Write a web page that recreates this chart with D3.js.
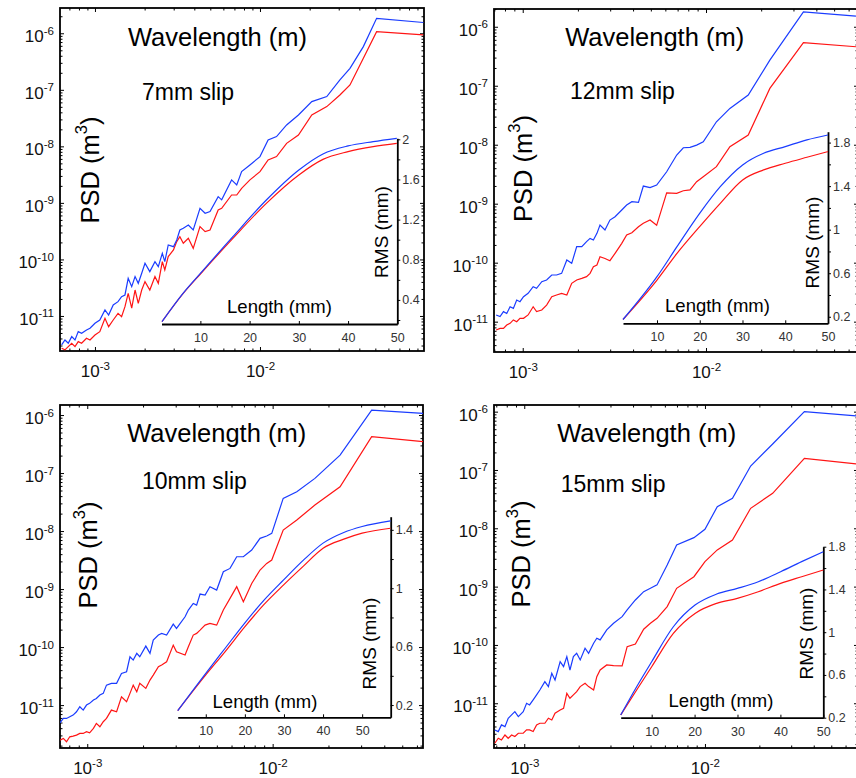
<!DOCTYPE html>
<html>
<head>
<meta charset="utf-8">
<script src="https://cdn.jsdelivr.net/npm/d3@7"></script>
<style>
  body { margin: 0; background: #fff; }
  svg { display: block; font-family: "Liberation Sans", Arial, Helvetica, sans-serif; }
</style>
</head>
<body>
<svg id="chart"></svg>
<script>
// ---- 7mm slip: wavelength (m) and PSD (m^3)
let wl7 = [6.28e-4, 6.58e-4, 6.89e-4, 7.23e-4, 7.57e-4, 7.92e-4, 8.30e-4, 8.89e-4, 9.33e-4, 1.00e-3,
  1.07e-3, 1.15e-3, 1.21e-3, 1.29e-3, 1.38e-3, 1.45e-3, 1.52e-3, 1.59e-3, 1.67e-3, 1.75e-3,
  1.83e-3, 1.92e-3, 2.01e-3, 2.15e-3, 2.31e-3, 2.42e-3, 2.56e-3, 2.65e-3, 2.78e-3, 2.99e-3,
  3.13e-3, 3.27e-3, 3.43e-3, 3.68e-3, 3.94e-3, 4.33e-3, 4.65e-3, 4.98e-3, 5.58e-3, 5.86e-3,
  6.73e-3, 7.23e-3, 7.74e-3, 8.69e-3, 1.00e-2, 1.12e-2, 1.26e-2, 1.45e-2, 1.71e-2, 2.06e-2,
  2.54e-2, 3.05e-2, 3.51e-2, 4.23e-2, 5.09e-2, 9.77e-2];
let psd7Blue = [3.07e-12, 3.76e-12, 3.29e-12, 4.31e-12, 3.76e-12, 5.28e-12, 4.93e-12, 5.65e-12, 6.05e-12, 7.41e-12,
  8.49e-12, 1.28e-11, 1.04e-11, 1.57e-11, 1.79e-11, 2.20e-11, 2.35e-11, 4.63e-11, 3.30e-11, 4.97e-11,
  3.78e-11, 5.69e-11, 8.55e-11, 6.08e-11, 9.14e-11, 7.46e-11, 1.28e-10, 9.14e-11, 1.80e-10, 1.68e-10,
  2.21e-10, 3.32e-10, 3.56e-10, 4.07e-10, 3.32e-10, 8.02e-10, 6.55e-10, 7.01e-10, 1.29e-9, 1.13e-9,
  2.55e-9, 2.07e-9, 3.57e-9, 4.69e-9, 6.58e-9, 1.30e-8, 1.49e-8, 2.39e-8, 3.59e-8, 6.18e-8,
  7.59e-8, 1.50e-7, 2.40e-7, 5.81e-7, 1.84e-6, 1.55e-6];
let psd7Red = [2.68e-12, 2.51e-12, 2.87e-12, 3.29e-12, 2.87e-12, 3.52e-12, 3.29e-12, 4.03e-12, 3.76e-12, 4.61e-12,
  5.28e-12, 9.10e-12, 6.47e-12, 8.49e-12, 1.11e-11, 9.73e-12, 1.46e-11, 2.52e-11, 1.37e-11, 2.88e-11,
  1.67e-11, 2.88e-11, 4.05e-11, 2.88e-11, 4.97e-11, 3.78e-11, 9.14e-11, 6.52e-11, 1.12e-10, 1.47e-10,
  2.07e-10, 2.53e-10, 1.93e-10, 2.37e-10, 1.57e-10, 3.80e-10, 3.10e-10, 3.32e-10, 7.50e-10, 8.02e-10,
  1.38e-9, 1.38e-9, 1.81e-9, 2.55e-9, 3.57e-9, 5.74e-9, 6.58e-9, 1.13e-8, 1.59e-8, 3.59e-8,
  5.05e-8, 8.11e-8, 1.22e-7, 3.61e-7, 1.07e-6, 9.35e-7];
// inset: length (mm) and RMS (mm)
let len7 = [2.2, 6.47, 10, 16.6, 23.4, 30, 34.9, 40, 45.1, 49.9];
let rms7Blue = [0.183, 0.465, 0.664, 1.03, 1.395, 1.694, 1.854, 1.934, 1.977, 2.01];
let rms7Red = [0.183, 0.462, 0.658, 1.013, 1.362, 1.645, 1.80, 1.877, 1.927, 1.96];

// ---- 12mm slip
let wl12 = [7.16e-4, 7.52e-4, 7.85e-4, 8.18e-4, 8.53e-4, 8.89e-4, 9.27e-4, 9.66e-4, 1.01e-3, 1.07e-3,
  1.14e-3, 1.19e-3, 1.27e-3, 1.35e-3, 1.44e-3, 1.53e-3, 1.63e-3, 1.74e-3, 1.85e-3, 1.97e-3,
  2.10e-3, 2.23e-3, 2.33e-3, 2.43e-3, 2.54e-3, 2.64e-3, 2.81e-3, 2.99e-3, 3.19e-3, 3.47e-3,
  3.69e-3, 3.94e-3, 4.28e-3, 4.55e-3, 4.95e-3, 5.38e-3, 6.10e-3, 6.92e-3, 7.52e-3, 8.18e-3,
  8.89e-3, 9.66e-3, 1.14e-2, 1.35e-2, 1.70e-2, 2.23e-2, 3.40e-2, 6.58e-2];
let psd12Blue = [1.30e-11, 1.22e-11, 1.48e-11, 1.38e-11, 1.79e-11, 1.68e-11, 2.33e-11, 2.18e-11, 2.65e-11, 3.02e-11,
  3.92e-11, 3.67e-11, 4.76e-11, 5.08e-11, 6.18e-11, 6.18e-11, 6.59e-11, 1.11e-10, 9.75e-11, 1.87e-10,
  1.87e-10, 2.27e-10, 2.58e-10, 2.42e-10, 3.14e-10, 4.35e-10, 3.58e-10, 5.28e-10, 6.03e-10, 7.82e-10,
  9.48e-10, 1.08e-9, 1.05e-9, 1.99e-9, 1.87e-9, 2.07e-9, 3.48e-9, 6.68e-9, 8.89e-9, 9.02e-9,
  9.86e-9, 1.12e-8, 2.45e-8, 4.13e-8, 6.95e-8, 2.72e-7, 1.79e-6, 1.52e-6];
let psd12Red = [7.23e-12, 7.71e-12, 7.71e-12, 8.79e-12, 9.38e-12, 1.07e-11, 1.00e-11, 1.14e-11, 1.14e-11, 1.30e-11,
  1.79e-11, 1.48e-11, 1.58e-11, 1.91e-11, 2.65e-11, 2.83e-11, 3.02e-11, 2.83e-11, 4.47e-11, 5.08e-11,
  5.42e-11, 5.79e-11, 6.59e-11, 8.55e-11, 9.12e-11, 1.26e-10, 1.18e-10, 1.08e-10, 1.44e-10, 2.13e-10,
  2.94e-10, 3.22e-10, 4.07e-10, 4.65e-10, 5.28e-10, 4.30e-10, 1.53e-9, 1.50e-9, 1.66e-9, 1.71e-9,
  2.36e-9, 2.87e-9, 4.24e-9, 9.25e-9, 1.46e-8, 9.02e-8, 5.36e-7, 4.58e-7];
let len12 = [2.05, 10, 14.68, 19.98, 24.8, 30.03, 34.94, 40.0, 45.07, 49.98];
let rms12Blue = [0.175, 0.568, 0.844, 1.150, 1.395, 1.595, 1.702, 1.763, 1.825, 1.870];
let rms12Red = [0.175, 0.537, 0.782, 1.028, 1.242, 1.457, 1.549, 1.610, 1.665, 1.717];

// ---- 10mm slip
let wl10 = [7.13e-4, 7.43e-4, 7.73e-4, 8.05e-4, 8.39e-4, 8.75e-4, 9.12e-4, 9.51e-4, 9.91e-4, 1.03e-3,
  1.08e-3, 1.12e-3, 1.17e-3, 1.22e-3, 1.27e-3, 1.35e-3, 1.44e-3, 1.53e-3, 1.63e-3, 1.70e-3,
  1.77e-3, 1.85e-3, 1.92e-3, 2.07e-3, 2.18e-3, 2.27e-3, 2.42e-3, 2.52e-3, 2.68e-3, 2.91e-3,
  3.03e-3, 3.37e-3, 3.51e-3, 3.73e-3, 3.89e-3, 4.06e-3, 4.32e-3, 4.59e-3, 4.99e-3, 5.42e-3,
  5.89e-3, 6.40e-3, 6.95e-3, 7.71e-3, 8.55e-3, 9.29e-3, 9.89e-3, 1.14e-2, 1.35e-2, 1.69e-2,
  2.31e-2, 3.42e-2, 6.50e-2];
let psd10Blue = [4.95e-12, 5.89e-12, 5.89e-12, 6.30e-12, 6.73e-12, 7.67e-12, 9.35e-12, 8.20e-12, 1.00e-11, 1.07e-11,
  1.22e-11, 1.30e-11, 1.49e-11, 1.59e-11, 2.21e-11, 2.37e-11, 2.37e-11, 3.52e-11, 3.76e-11, 6.81e-11,
  5.97e-11, 7.78e-11, 6.81e-11, 1.04e-10, 7.78e-11, 1.32e-10, 1.61e-10, 1.72e-10, 1.61e-10, 2.49e-10,
  2.10e-10, 3.33e-10, 4.35e-10, 5.66e-10, 5.30e-10, 8.20e-10, 7.89e-10, 1.10e-9, 9.62e-10, 1.99e-9,
  2.27e-9, 3.61e-9, 3.61e-9, 4.70e-9, 7.48e-9, 8.20e-9, 9.12e-9, 3.66e-8, 4.76e-8, 8.09e-8,
  2.04e-7, 1.22e-6, 1.07e-6];
let psd10Red = [2.49e-12, 2.66e-12, 2.33e-12, 2.84e-12, 2.92e-12, 3.04e-12, 3.24e-12, 3.24e-12, 3.47e-12, 3.33e-12,
  3.96e-12, 4.83e-12, 4.23e-12, 5.16e-12, 5.89e-12, 8.20e-12, 7.67e-12, 1.39e-11, 1.14e-11, 1.59e-11,
  2.21e-11, 1.70e-11, 2.37e-11, 1.94e-11, 2.70e-11, 3.29e-11, 4.58e-11, 4.90e-11, 5.58e-11, 1.08e-10,
  8.32e-11, 7.28e-11, 1.01e-10, 1.61e-10, 1.72e-10, 1.96e-10, 2.39e-10, 2.56e-10, 2.39e-10, 4.35e-10,
  6.90e-10, 1.10e-9, 6.05e-10, 1.25e-9, 2.13e-9, 2.77e-9, 3.16e-9, 1.04e-8, 1.55e-8, 2.81e-8,
  5.81e-8, 4.23e-7, 3.47e-7];
let len10 = [2.82, 10, 14.96, 19.91, 24.79, 29.91, 35.04, 40.0, 45.3, 50.0, 57.26];
let rms10Blue = [0.161, 0.417, 0.589, 0.76, 0.915, 1.057, 1.194, 1.309, 1.382, 1.423, 1.462];
let rms10Red = [0.161, 0.406, 0.566, 0.733, 0.886, 1.023, 1.153, 1.274, 1.336, 1.377, 1.411];

// ---- 15mm slip
let wl15 = [6.87e-4, 7.18e-4, 7.48e-4, 7.82e-4, 8.15e-4, 8.51e-4, 8.87e-4, 9.27e-4, 9.87e-4, 1.03e-3,
  1.07e-3, 1.12e-3, 1.17e-3, 1.22e-3, 1.30e-3, 1.36e-3, 1.42e-3, 1.48e-3, 1.58e-3, 1.65e-3,
  1.72e-3, 1.79e-3, 1.87e-3, 1.95e-3, 2.04e-3, 2.17e-3, 2.27e-3, 2.42e-3, 2.52e-3, 2.63e-3,
  2.86e-3, 3.12e-3, 3.48e-3, 3.71e-3, 4.12e-3, 4.58e-3, 4.99e-3, 5.43e-3, 6.18e-3, 6.97e-3,
  8.69e-3, 1.00e-2, 1.17e-2, 1.42e-2, 1.79e-2, 2.37e-2, 3.55e-2, 6.97e-2];
let psd15Blue = [3.49e-12, 3.27e-12, 4.26e-12, 3.98e-12, 5.53e-12, 6.31e-12, 7.19e-12, 5.90e-12, 7.19e-12, 1.00e-11,
  9.35e-12, 1.14e-11, 1.39e-11, 1.69e-11, 2.35e-11, 1.93e-11, 3.27e-11, 2.51e-11, 5.18e-11, 4.26e-11,
  6.31e-11, 3.72e-11, 6.31e-11, 7.19e-11, 5.53e-11, 8.77e-11, 7.19e-11, 1.07e-10, 1.30e-10, 1.22e-10,
  1.81e-10, 2.35e-10, 3.06e-10, 3.98e-10, 5.90e-10, 8.20e-10, 9.35e-10, 1.07e-9, 2.35e-9, 5.18e-9,
  6.92e-9, 9.62e-9, 2.35e-8, 3.27e-8, 1.17e-7, 2.79e-7, 1.00e-6, 8.43e-7];
let psd15Red = [2.06e-12, 2.51e-12, 2.35e-12, 2.86e-12, 2.51e-12, 2.86e-12, 2.69e-12, 3.06e-12, 3.06e-12, 3.49e-12,
  3.49e-12, 3.27e-12, 4.26e-12, 4.54e-12, 4.54e-12, 5.53e-12, 5.18e-12, 6.75e-12, 7.69e-12, 8.20e-12,
  1.48e-11, 1.22e-11, 1.39e-11, 1.58e-11, 1.93e-11, 2.20e-11, 1.93e-11, 1.69e-11, 2.86e-11, 3.72e-11,
  4.54e-11, 4.43e-11, 4.37e-11, 9.35e-11, 1.04e-10, 1.86e-10, 2.35e-10, 2.86e-10, 4.54e-10, 9.35e-10,
  1.48e-9, 2.69e-9, 4.26e-9, 6.31e-9, 2.20e-8, 3.98e-8, 1.58e-7, 1.27e-7];
let len15 = [2.78, 6.5, 10, 15.05, 20.1, 25.15, 29.96, 34.85, 40.06, 44.95, 50.0];
let rms15Blue = [0.225, 0.49, 0.724, 1.051, 1.254, 1.357, 1.410, 1.472, 1.566, 1.660, 1.753];
let rms15Red = [0.225, 0.459, 0.677, 0.989, 1.176, 1.270, 1.317, 1.379, 1.457, 1.519, 1.582];

// inset tick values and which of them carry a label
let lengthTicks = [10, 20, 30, 40, 50];
let rmsTicks7 = [0.2, 0.4, 0.6, 0.8, 1, 1.2, 1.4, 1.6, 1.8, 2];
let rmsLabels7 = [0.4, 0.8, 1.2, 1.6, 2];
let rmsTicks12 = [0.2, 0.4, 0.6, 0.8, 1, 1.2, 1.4, 1.6, 1.8];
let rmsLabels12 = [0.2, 0.6, 1, 1.4, 1.8];
let rmsTicks10 = [0.2, 0.4, 0.6, 0.8, 1, 1.2, 1.4];
let rmsLabels10 = [0.2, 0.6, 1, 1.4];
let rmsTicks15 = [0.2, 0.4, 0.6, 0.8, 1, 1.2, 1.4, 1.6, 1.8];
let rmsLabels15 = [0.2, 0.6, 1, 1.4, 1.8];

let width = 856;
let height = 778;
let blue = '#1a3cff';
let red = '#ff1414';

let svg = d3.select('#chart').attr('width', width).attr('height', height);

// layout of the four panels (frame, axis extents, inset box, text anchors)
let panels = [
  { slip: '7mm slip', wl: wl7, blue: psd7Blue, red: psd7Red, len: len7, rmsBlue: rms7Blue, rmsRed: rms7Red,
    frame: [60, 8, 424, 351], xDomain: [6.14e-4, 0.0986], yDomain: [2.40e-12, 2.80e-6],
    inset: [161.5, 138.3, 397.3, 324], insetX: [2.1, 50], insetY: [0.16, 2.01],
    rmsTicks: rmsTicks7, rmsLabels: rmsLabels7,
    title: [217.5, 45.7], slipPos: [142, 100], psd: [99, 170], rms: [388, 232], length: [279.5, 312.5] },
  { slip: '12mm slip', wl: wl12, blue: psd12Blue, red: psd12Red, len: len12, rmsBlue: rms12Blue, rmsRed: rms12Red,
    frame: [494, 9, 858, 352], xDomain: [6.97e-4, 0.0675], yDomain: [3.06e-12, 2.0e-6],
    inset: [623, 131.7, 828, 323.3], insetX: [2.05, 50], insetY: [0.14, 1.9],
    rmsTicks: rmsTicks12, rmsLabels: rmsLabels12,
    title: [654.7, 45.7], slipPos: [570, 99.3], psd: [532, 168.5], rms: [819, 242.5], length: [717.5, 311.7] },
  { slip: '10mm slip', wl: wl10, blue: psd10Blue, red: psd10Red, len: len10, rmsBlue: rms10Blue, rmsRed: rms10Red,
    frame: [60, 405, 423, 748], xDomain: [7.13e-4, 0.0647], yDomain: [1.82e-12, 1.49e-6],
    inset: [177.7, 516.7, 390.7, 717.3], insetX: [2.82, 57.3], insetY: [0.116, 1.49],
    rmsTicks: rmsTicks10, rmsLabels: rmsLabels10,
    title: [216.7, 441.7], slipPos: [142, 489.3], psd: [97, 555], rms: [376, 643.5], length: [265, 708.3] },
  { slip: '15mm slip', wl: wl15, blue: psd15Blue, red: psd15Red, len: len15, rmsBlue: rms15Blue, rmsRed: rms15Red,
    frame: [494, 405, 858, 748], xDomain: [6.8e-4, 0.0703], yDomain: [1.71e-12, 1.30e-6],
    inset: [620.7, 546.7, 823.3, 717.7], insetX: [2.78, 50], insetY: [0.2, 1.8],
    rmsTicks: rmsTicks15, rmsLabels: rmsLabels15,
    title: [646.7, 441.7], slipPos: [560.7, 491.7], psd: [530, 554], rms: [813, 633.5], length: [721, 706.7] }
];

// decade and 2..9 sub-decade tick values inside a log domain
let decades = (domain) => {
  let out = [];
  for (let k = -13; k <= 0; k++) {
    let v = Math.pow(10, k);
    if (v >= domain[0] && v <= domain[1]) out.push(v);
  }
  return out;
};
let minors = (domain) => {
  let out = [];
  for (let k = -13; k <= 0; k++) {
    for (let m = 2; m <= 9; m++) {
      let v = m * Math.pow(10, k);
      if (v >= domain[0] && v <= domain[1]) out.push(v);
    }
  }
  return out;
};

// turn "1e-6" tick text into 10 with a raised exponent
let powerLabels = (sel, dy) => {
  sel.selectAll('.tick text').each(function (d) {
    let t = d3.select(this);
    t.text(null).attr('dy', dy).attr('fill', '#111');
    t.append('tspan').text('10');
    t.append('tspan').attr('dy', '-0.65em').attr('font-size', '0.68em').text(Math.round(Math.log10(d)));
  });
};

// put an axis group on the panel, remove its domain line
let addAxis = (g, axis, transform) => {
  let a = g.append('g').attr('transform', transform).call(axis);
  a.select('.domain').remove();
  a.attr('font-family', null).attr('font-size', 17);
  a.selectAll('.tick line').attr('stroke', '#000');
  return a;
};

let drawPanel = (p, i) => {
  let g = svg.append('g');
  let [x0, y0, x1, y1] = p.frame;

  let x = d3.scaleLog().domain(p.xDomain).range([x0, x1]);
  let y = d3.scaleLog().domain(p.yDomain).range([y1, y0]);

  // clip the curves to the frame
  let clipId = 'clip' + i;
  g.append('clipPath').attr('id', clipId)
    .append('rect').attr('x', x0).attr('y', y0).attr('width', x1 - x0).attr('height', y1 - y0);

  // minor ticks on all four sides
  addAxis(g, d3.axisLeft(y).tickValues(minors(p.yDomain)).tickSizeInner(-2.5).tickSizeOuter(0).tickFormat(''), `translate(${x0},0)`);
  addAxis(g, d3.axisRight(y).tickValues(minors(p.yDomain)).tickSizeInner(-2.5).tickSizeOuter(0).tickFormat(''), `translate(${x1},0)`);
  addAxis(g, d3.axisBottom(x).tickValues(minors(p.xDomain)).tickSizeInner(-2.5).tickSizeOuter(0).tickFormat(''), `translate(0,${y1})`);
  addAxis(g, d3.axisTop(x).tickValues(minors(p.xDomain)).tickSizeInner(-2.5).tickSizeOuter(0).tickFormat(''), `translate(0,${y0})`);

  // major ticks with labels on left and bottom
  let left = addAxis(g, d3.axisLeft(y).tickValues(decades(p.yDomain)).tickSizeInner(-4).tickSizeOuter(0).tickPadding(6), `translate(${x0},0)`);
  powerLabels(left, '0.5em');
  let bottom = addAxis(g, d3.axisBottom(x).tickValues(decades(p.xDomain)).tickSizeInner(-4).tickSizeOuter(0).tickPadding(14), `translate(0,${y1})`);
  powerLabels(bottom, '0.71em');
  addAxis(g, d3.axisRight(y).tickValues(decades(p.yDomain)).tickSizeInner(-4).tickSizeOuter(0).tickFormat(''), `translate(${x1},0)`);
  addAxis(g, d3.axisTop(x).tickValues(decades(p.xDomain)).tickSizeInner(-4).tickSizeOuter(0).tickFormat(''), `translate(0,${y0})`);

  g.append('rect')
    .attr('x', x0).attr('y', y0).attr('width', x1 - x0).attr('height', y1 - y0)
    .attr('fill', 'none').attr('stroke', '#000').attr('stroke-width', 1.8);

  // PSD curves
  let psdLine = d3.line().x((d) => x(d[0])).y((d) => y(d[1]));
  let curves = g.append('g').attr('clip-path', `url(#${clipId})`);
  curves.append('path').datum(d3.zip(p.wl, p.red)).attr('d', psdLine)
    .attr('fill', 'none').attr('stroke', red).attr('stroke-width', 1.2);
  curves.append('path').datum(d3.zip(p.wl, p.blue)).attr('d', psdLine)
    .attr('fill', 'none').attr('stroke', blue).attr('stroke-width', 1.2);

  // inset: RMS against length
  let [ix0, iy0, ix1, iy1] = p.inset;
  let ix = d3.scaleLinear().domain(p.insetX).range([ix0, ix1]);
  let iy = d3.scaleLinear().domain(p.insetY).range([iy1, iy0]);

  let xin = g.append('g').attr('transform', `translate(0,${iy1})`)
    .call(d3.axisBottom(ix).tickValues(lengthTicks).tickSizeInner(-3).tickSizeOuter(0).tickPadding(9));
  let yin = g.append('g').attr('transform', `translate(${ix1},0)`)
    .call(d3.axisRight(iy).tickValues(p.rmsTicks).tickSizeInner(3).tickSizeOuter(0).tickPadding(2)
      .tickFormat((d) => p.rmsLabels.some((l) => Math.abs(l - d) < 1e-6) ? d3.format('~g')(d) : ''));
  [xin, yin].forEach((a) => {
    a.attr('font-family', null).attr('font-size', 12.5);
    a.select('.domain').attr('stroke', '#000').attr('stroke-width', 1.8);
    a.selectAll('.tick line').attr('stroke', '#000');
    a.selectAll('.tick text').attr('fill', '#333');
  });

  let rmsLine = d3.line().x((d) => ix(d[0])).y((d) => iy(d[1])).curve(d3.curveMonotoneX);
  g.append('path').datum(d3.zip(p.len, p.rmsRed)).attr('d', rmsLine)
    .attr('fill', 'none').attr('stroke', red).attr('stroke-width', 1.2);
  g.append('path').datum(d3.zip(p.len, p.rmsBlue)).attr('d', rmsLine)
    .attr('fill', 'none').attr('stroke', blue).attr('stroke-width', 1.2);

  // texts
  g.append('text').attr('x', p.title[0]).attr('y', p.title[1])
    .attr('text-anchor', 'middle').attr('font-size', 25.5).text('Wavelength (m)');
  g.append('text').attr('x', p.slipPos[0]).attr('y', p.slipPos[1])
    .attr('font-size', 23).text(p.slip);

  let psdText = g.append('text')
    .attr('transform', `translate(${p.psd[0]},${p.psd[1]}) rotate(-90)`)
    .attr('text-anchor', 'middle').attr('font-size', 25.5);
  psdText.append('tspan').text('PSD (m');
  psdText.append('tspan').attr('dy', '-0.75em').attr('font-size', '0.65em').text('3');
  psdText.append('tspan').attr('dy', '0.49em').text(')');

  g.append('text')
    .attr('transform', `translate(${p.rms[0]},${p.rms[1]}) rotate(-90)`)
    .attr('text-anchor', 'middle').attr('font-size', 19).text('RMS (mm)');
  g.append('text').attr('x', p.length[0]).attr('y', p.length[1])
    .attr('text-anchor', 'middle').attr('font-size', 18.5).text('Length (mm)');
};

panels.forEach(drawPanel);
</script>
</body>
</html>
